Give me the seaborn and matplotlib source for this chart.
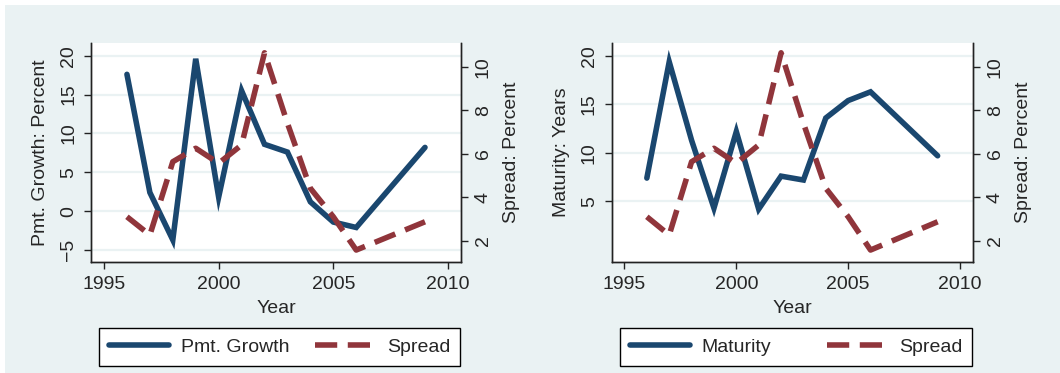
import pandas as pd
import matplotlib.pyplot as plt
import matplotlib.patches as mpatches
import seaborn as sns

sns.set_theme(style='white')
plt.rcParams['font.family'] = ['Liberation Sans', 'DejaVu Sans']

# data
years = [1996, 1997, 1998, 1999, 2000, 2001, 2002, 2003, 2004, 2005, 2006, 2009]
pmt_growth = [17.6, 2.4, -3.7, 19.6, 1.8, 15.5, 8.6, 7.6, 1.2, -1.4, -2.1, 8.2]
maturity = [7.4, 19.4, 11.3, 4.3, 12.2, 4.2, 7.6, 7.2, 13.6, 15.4, 16.3, 9.7]
spread = [3.1, 2.26, 5.63, 6.25, 5.56, 6.4, 10.64, 7.4, 4.41, 3.1, 1.57, 2.87]

left_ticks = [-5, 0, 5, 10, 15, 20]
right_left_ticks = [5, 10, 15, 20]
spread_ticks = [2, 4, 6, 8, 10]
year_ticks = [1995, 2000, 2005, 2010]

df = pd.DataFrame({'year': years, 'pmt': pmt_growth, 'mat': maturity, 'spread': spread})

navy = '#1a476f'
maroon = '#90353b'
bg = '#eaf2f3'
fs = 14

fig = plt.figure(figsize=(10.6, 3.73), dpi=100, facecolor='white')
fig.patches.append(mpatches.Rectangle((5 / 1060, 0), 1, 1 - 5 / 373, transform=fig.transFigure,
                                      facecolor=bg, edgecolor='none', zorder=-10))

panels = [
    dict(pos=[0.0858, 0.2976, 0.3491, 0.5871], col='pmt', name='Pmt. Growth',
         ylabel='Pmt. Growth: Percent', ylim=(-6.54, 21.63), yt=left_ticks,
         leg=(0.0934, 0.0188, 0.3406, 0.1019)),
    dict(pos=[0.5771, 0.2976, 0.3406, 0.5871], col='mat', name='Maturity',
         ylabel='Maturity: Years', ylim=(-1.26, 21.34), yt=right_left_ticks,
         leg=(0.5849, 0.0188, 0.3321, 0.1019)),
]

for p in panels:
    ax = fig.add_axes(p['pos'])
    ax.set_facecolor('white')
    ax2 = ax.twinx()
    for y in p['yt']:
        ax.axhline(y, color=bg, lw=1.6, zorder=0)
    sns.lineplot(data=df, x='year', y=p['col'], ax=ax, color=navy, lw=4, legend=False,
                 solid_joinstyle='miter')
    sns.lineplot(data=df, x='year', y='spread', ax=ax2, color=maroon, lw=4, legend=False,
                 dashes=False)
    ax2.get_lines()[0].set_dashes((4, 1.9))
    ax.set_xlim(1994.43, 2010.57)
    ax.set_ylim(*p['ylim'])
    ax2.set_ylim(1.02, 11.09)
    ax.set_xticks(year_ticks)
    ax.set_yticks(p['yt'])
    ax2.set_yticks(spread_ticks)
    ax.set_xlabel('Year', fontsize=fs, labelpad=5)
    ax.set_ylabel(p['ylabel'], fontsize=fs, labelpad=8)
    ax2.set_ylabel('Spread: Percent', fontsize=fs, labelpad=8)
    for a in (ax, ax2):
        a.tick_params(axis='both', which='major', direction='out', length=5, width=1,
                      color='#222222', labelsize=fs, pad=5)
        for s in ('left', 'right', 'bottom'):
            a.spines[s].set_color('#222222')
            a.spines[s].set_linewidth(1)
        a.spines['top'].set_visible(False)
        a.grid(False)
        plt.setp(a.get_yticklabels(), rotation=90, va='center')
    ax.tick_params(axis='y', left=True, right=False)
    ax.tick_params(axis='x', bottom=True)
    ax2.tick_params(axis='y', right=True)
    h1 = plt.Line2D([], [], color=navy, lw=4)
    h2 = plt.Line2D([], [], color=maroon, lw=4, dashes=(4, 1.9))
    leg = fig.legend([h1, h2], [p['name'], 'Spread'], loc='center', bbox_to_anchor=p['leg'],
                     mode='expand', ncol=2, fontsize=fs, frameon=True, fancybox=False,
                     handlelength=3.1, handletextpad=0.6, borderaxespad=0, borderpad=0.5)
    leg.get_frame().set_edgecolor('black')
    leg.get_frame().set_linewidth(1)
    leg.get_frame().set_facecolor('white')
    leg.get_frame().set_alpha(1)

fig.savefig('out.png', dpi=100, facecolor=fig.get_facecolor())
